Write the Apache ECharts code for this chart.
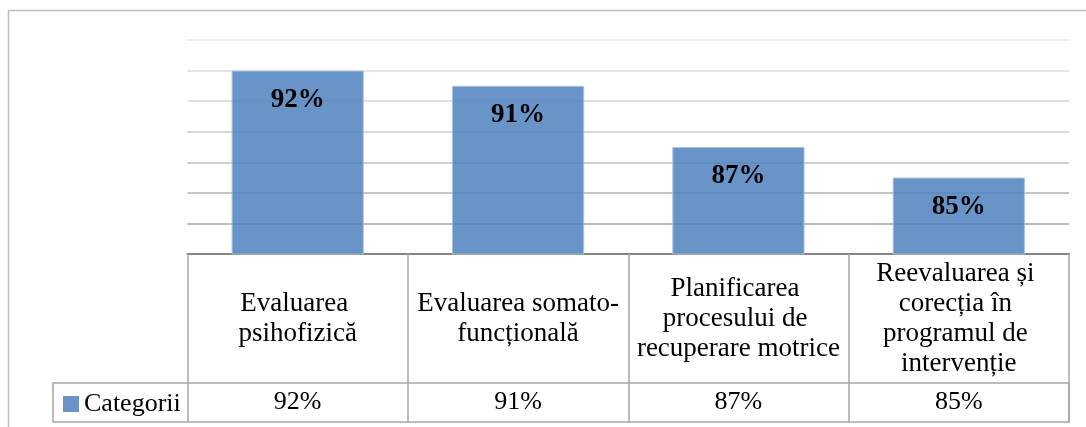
<!DOCTYPE html>
<html>
<head>
<meta charset="utf-8">
<script src="https://cdn.jsdelivr.net/npm/echarts@6/dist/echarts.min.js"></script>
<style>
  html, body { margin: 0; padding: 0; background: #fff; }
  #container { width: 1086px; height: 427px; }
</style>
</head>
<body>
<div id="container"></div>
<script>
// data
const categories = [
  'Evaluarea psihofizică',
  'Evaluarea somato-funcțională',
  'Planificarea procesului de recuperare motrice',
  'Reevaluarea și corecția în programul de intervenție'
];
const values = [92, 91, 87, 85];
const seriesName = 'Categorii';

const serif = "'Liberation Serif', 'Times New Roman', serif";
const cellLine = '#a6a6a6';

// plot area / table geometry
const plotLeft = 187.5, plotRight = 1069, axisY = 254, rowY = 383, tableBottom = 422, legendLeft = 53;

let options = {
  animation: false,
  backgroundColor: '#fff',
  grid: {
    left: plotLeft,
    right: 1086 - plotRight,
    top: 40,
    bottom: 427 - axisY,
    outerBoundsMode: 'none'
  },
  legend: {
    data: [seriesName],
    left: 63,
    top: 391,
    padding: 0,
    icon: 'rect',
    itemWidth: 16,
    itemHeight: 16,
    itemGap: 5,
    itemStyle: { borderWidth: 0, color: '#6894c7' },
    textStyle: { fontFamily: serif, fontSize: 26, color: '#000' }
  },
  xAxis: [
    {
      type: 'category',
      data: categories,
      boundaryGap: true,
      axisLine: { show: true, lineStyle: { color: '#858585', width: 2 } },
      axisTick: {
        show: true,
        interval: 0,
        inside: false,
        length: tableBottom - axisY,
        lineStyle: { color: cellLine, width: 1.5 }
      },
      axisLabel: {
        interval: 0,
        margin: (rowY - axisY) / 2,
        verticalAlign: 'middle',
        align: 'center',
        width: 214,
        overflow: 'break',
        fontFamily: serif,
        fontSize: 27,
        lineHeight: 30,
        color: '#000',
        formatter: v => v.replace(/-/g, '-\n')
      },
      splitLine: { show: false }
    },
    {
      // value row of the data table
      type: 'category',
      data: categories,
      position: 'bottom',
      offset: rowY - axisY,
      axisLine: { show: false },
      axisTick: { show: false },
      axisLabel: {
        interval: 0,
        margin: (tableBottom - rowY) / 2,
        verticalAlign: 'middle',
        fontFamily: serif,
        fontSize: 26,
        color: '#000',
        formatter: (v, i) => values[i] + '%'
      },
      splitLine: { show: false }
    }
  ],
  yAxis: {
    type: 'value',
    min: 80,
    max: 94,
    interval: 2,
    axisLine: { show: false },
    axisTick: { show: false },
    axisLabel: { show: false },
    splitLine: {
      show: true,
      lineStyle: {
        width: 1.5,
        color: ['#858585', '#a3a3a3', '#b2b2b2', '#bfbfbf', '#cacaca', '#d4d4d4', '#dddddd', '#e8e8e8']
      }
    }
  },
  series: [
    {
      name: seriesName,
      type: 'bar',
      xAxisIndex: 0,
      data: values,
      barWidth: '60%',
      itemStyle: {
        color: 'rgba(79,129,189,0.85)',
        borderColor: '#a9c1e0',
        borderWidth: 1
      },
      label: {
        show: true,
        position: 'insideTop',
        distance: 16,
        formatter: '{c}%',
        fontFamily: serif,
        fontSize: 27,
        fontWeight: 'bold',
        color: '#000'
      }
    }
  ],
  graphic: [
    {
      // outer frame
      type: 'rect',
      silent: true,
      shape: { x: 8.5, y: 10.5, width: 1200, height: 600 },
      style: { fill: 'none', stroke: '#c0c0c0', lineWidth: 1.5 }
    },
    {
      // value row incl. legend cell
      type: 'rect',
      silent: true,
      shape: { x: legendLeft, y: rowY, width: plotRight - legendLeft, height: tableBottom - rowY },
      style: { fill: 'none', stroke: cellLine, lineWidth: 1.5 }
    }
  ]
};

let mychart = echarts.init(document.getElementById('container'));
mychart.setOption(options);
window.addEventListener('resize', () => { mychart.resize() });
</script>
</body>
</html>
